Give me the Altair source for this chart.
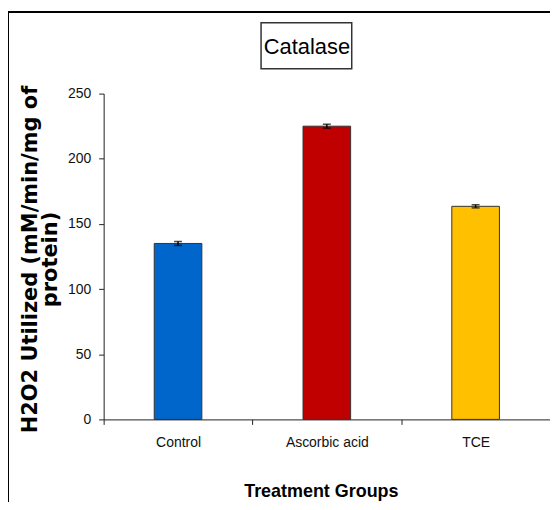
import altair as alt
import pandas as pd

groups = ["Control", "Ascorbic acid", "TCE"]
values = [135.0, 225.0, 163.5]
errors = [1.5, 1.5, 1.2]
colors = ["#0066CC", "#C00000", "#FFC000"]

df = pd.DataFrame({"group": groups, "value": values, "err": errors})
df["lo"] = df["value"] - df["err"]
df["hi"] = df["value"] + df["err"]

SANS = "Liberation Sans, Arial, sans-serif"

xenc = alt.X(
    "group:N",
    sort=groups,
    scale=alt.Scale(paddingInner=0, paddingOuter=0),
    axis=alt.Axis(
        title="Treatment Groups",
        labelAngle=0,
        tickBand="extent",
        tickSize=5,
        labelPadding=11,
        labelFont=SANS,
        labelFontSize=14,
        labelColor="#111",
        titleFont=SANS,
        titleFontSize=18,
        titleFontWeight="bold",
        titleColor="#000",
        titlePadding=33,
        titleX=218,
        domainColor="#222",
        tickColor="#222",
    ),
)
yenc = alt.Y(
    "value:Q",
    scale=alt.Scale(domain=[0, 250], nice=False),
    axis=alt.Axis(
        values=[0, 50, 100, 150, 200, 250],
        grid=False,
        tickSize=5,
        labelPadding=8,
        labelFont=SANS,
        labelFontSize=14,
        labelColor="#111",
        domainColor="#222",
        tickColor="#222",
        title=["H2O2 Utilized (mM/min/mg of", "protein)"],
        titleFont="DejaVu Sans",
        titleFontSize=21,
        titleFontWeight="bold",
        titleColor="#000",
        titleLineHeight=20,
        titleAngle=270,
        titleAlign="center",
        titleBaseline="top",
        titleX=-84,
        titleY=166,
    ),
)

bars = alt.Chart(df).mark_bar(stroke="#333", strokeWidth=1, width=alt.RelativeBandSize(0.32)).encode(
    x=xenc,
    y=yenc,
    color=alt.Color("group:N", scale=alt.Scale(domain=groups, range=colors), legend=None),
)

err_rule = alt.Chart(df).mark_rule(color="#000", strokeWidth=1.5).encode(
    x=alt.X("group:N", sort=groups), y="lo:Q", y2="hi:Q"
)
cap_hi = alt.Chart(df).mark_tick(color="#000", size=8, thickness=1.5).encode(
    x=alt.X("group:N", sort=groups), y="hi:Q"
)
cap_lo = alt.Chart(df).mark_tick(color="#000", size=8, thickness=1.5).encode(
    x=alt.X("group:N", sort=groups), y="lo:Q"
)

one = alt.Data(values=[{}])
frame_left = alt.Chart(one).mark_rule(color="#000", strokeWidth=2).encode(
    x=alt.value(-96), y=alt.value(-83), y2=alt.value(420)
)
frame_top = alt.Chart(one).mark_rule(color="#000", strokeWidth=2).encode(
    x=alt.value(-97), x2=alt.value(448), y=alt.value(-82)
)
title_box = alt.Chart(one).mark_rect(fill="white", stroke="#333", strokeWidth=1.5).encode(
    x=alt.value(158), x2=alt.value(249), y=alt.value(-71), y2=alt.value(-25)
)
title_text = alt.Chart(one).mark_text(
    text="Catalase", font=SANS, fontSize=22, color="#000", align="center", baseline="middle"
).encode(x=alt.value(204), y=alt.value(-47))

chart = alt.layer(
    frame_left, frame_top, title_box, title_text, bars, err_rule, cap_hi, cap_lo
).properties(
    width=448,
    height=327,
    autosize=alt.AutoSizeParams(type="none"),
    padding={"left": 96, "top": 85, "right": 0, "bottom": 82},
    background="white",
).configure_view(stroke=None)

chart.save("out.html", embed_options={"renderer": "svg", "actions": False})
